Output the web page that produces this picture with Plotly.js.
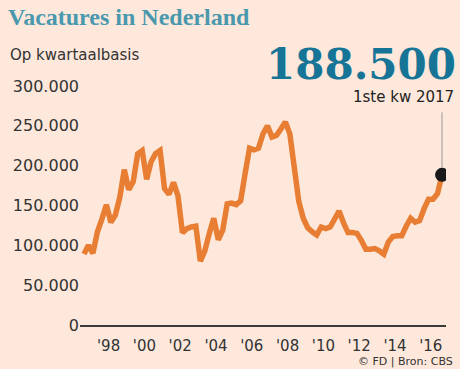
<!DOCTYPE html>
<html>
<head>
<meta charset="utf-8">
<script src="https://cdn.plot.ly/plotly-3.0.1.min.js"></script>
<style>
html,body{margin:0;padding:0;background:#FDE8DB;}
#chart{width:460px;height:369px;}
</style>
</head>
<body>
<div id="chart"></div>
<script>
// Quarterly vacancies, 1997 Q1 .. 2017 Q1
const startYear = 1997;
const vacatures = [
  89000, 100000, 90000, 117000,
  133000, 151000, 129000, 138000,
  160000, 195000, 170000, 180000,
  215000, 219000, 183000, 205000,
  215000, 219000, 171000, 164000,
  179000, 162000, 116000, 121000,
  123000, 124000, 80000, 93000,
  115000, 134000, 107000, 119000,
  152000, 153000, 151000, 156000,
  190000, 222000, 220000, 222000,
  240000, 250000, 236000, 238000,
  246000, 255000, 240000, 200000,
  155000, 134000, 122000, 117000,
  113000, 123000, 121000, 123000,
  133000, 143000, 128000, 116000,
  116000, 115000, 106000, 95000,
  95000, 96000, 93000, 89000,
  104000, 111000, 112000, 112000,
  124000, 134000, 129000, 131000,
  146000, 158000, 158000, 165000,
  188500
];
const tickYears = [1998, 2000, 2002, 2004, 2006, 2008, 2010, 2012, 2014, 2016];
const tickLabels = ["'98", "'00", "'02", "'04", "'06", "'08", "'10", "'12", "'14", "'16"];
const yTicks = [0, 50000, 100000, 150000, 200000, 250000, 300000];
const lastLabel = "1ste kw 2017";

const xs = vacatures.map((v, i) => startYear + i / 4);
const lastX = xs[xs.length - 1];
const lastY = vacatures[vacatures.length - 1];
const fmt = v => v.toString().replace(/\B(?=(\d{3})+(?!\d))/g, ".");

// layout geometry (pixels)
const W = 460, H = 369, L = 80, R = 14, T = 86, B = 44;
const pw = W - L - R, ph = H - T - B;
const px = x => (x - L) / pw;
const py = y => (H - B - y) / ph;

const sans = "DejaVu Sans, sans-serif";
const data = [
  {x: xs, y: vacatures, type: 'scatter', mode: 'lines',
   line: {color: '#E87E33', width: 5.5, shape: 'linear'}, hoverinfo: 'skip'},
  {x: [lastX], y: [lastY], type: 'scatter', mode: 'markers',
   marker: {color: '#1A1A1A', size: 14}, hoverinfo: 'skip'}
];
const layout = {
  width: W, height: H,
  paper_bgcolor: '#FDE8DB', plot_bgcolor: '#FDE8DB',
  margin: {l: L, r: R, t: T, b: B},
  showlegend: false,
  separators: ',.',
  title: {text: 'Vacatures in Nederland', xref: 'container', yref: 'container',
          x: 8/W, xanchor: 'left', y: 1 - 8/H, yanchor: 'top',
          font: {family: 'Liberation Serif, serif', size: 24, color: '#4A98AE', weight: 'bold'}},
  xaxis: {range: [1996.777, 2017.2235], tickmode: 'array',
          tickvals: tickYears.map(y => y + 0.375), ticktext: tickLabels,
          showgrid: false, zeroline: false, showline: true, linecolor: '#3a3a3a', linewidth: 1.5,
          ticks: '', ticklabelstandoff: 6, tickfont: {family: sans, size: 15, color: '#333'}, fixedrange: true},
  yaxis: {range: [0, 300000], tickmode: 'array', tickvals: yTicks, ticktext: yTicks.map(fmt),
          showgrid: false, zeroline: false, showline: false, ticks: '',
          tickfont: {family: sans, size: 16, color: '#333'}, fixedrange: true},
  annotations: [
    {xref: 'paper', yref: 'paper', x: px(8), y: py(55), xanchor: 'left', yanchor: 'middle',
     text: 'Op kwartaalbasis', showarrow: false, font: {family: sans, size: 15, color: '#333'}},
    {xref: 'paper', yref: 'paper', x: px(458), y: py(64), xanchor: 'right', yanchor: 'middle',
     text: '<b>' + fmt(lastY) + '</b>', showarrow: false,
     font: {family: 'DejaVu Serif, serif', size: 42, color: '#167596'}},
    {xref: 'paper', yref: 'paper', x: px(456), y: py(97), xanchor: 'right', yanchor: 'middle',
     text: lastLabel, showarrow: false, font: {family: sans, size: 15, color: '#222'}},
    {x: lastX, y: lastY, xref: 'x', yref: 'y', text: '', showarrow: true, arrowhead: 0,
     arrowwidth: 1, arrowcolor: '#999', ax: 0, ay: -64, standoff: 7},
    {xref: 'paper', yref: 'paper', x: px(455), y: py(361), xanchor: 'right', yanchor: 'middle',
     text: '© FD | Bron: CBS', showarrow: false, font: {family: sans, size: 11, color: '#333'}}
  ]
};
Plotly.newPlot('chart', data, layout, {displayModeBar: false, staticPlot: true});
</script>
</body>
</html>
